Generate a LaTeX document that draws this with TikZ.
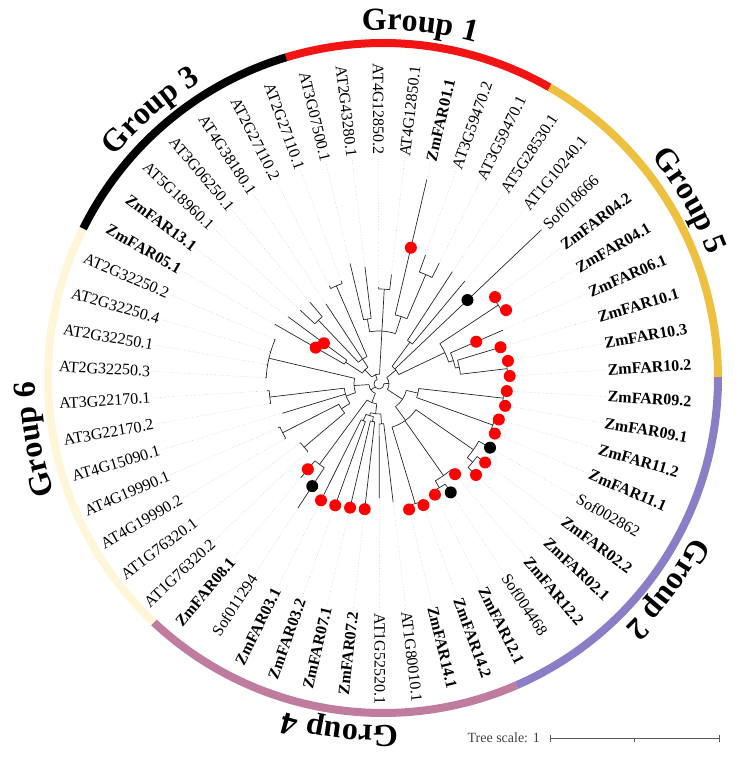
\documentclass[tikz,border=0pt]{standalone}
\usepackage{fontspec}
\setmainfont{Liberation Serif}
\usepackage{tikz}
\usetikzlibrary{decorations.text}
\definecolor{grpred}{RGB}{240,20,20}
\definecolor{grpgold}{RGB}{238,192,64}
\definecolor{grppurple}{RGB}{140,126,198}
\definecolor{grpmauve}{RGB}{192,124,158}
\definecolor{grpcream}{RGB}{255,246,218}
\newcommand{\leaffont}{\fontsize{16}{18}\selectfont}
\newcommand{\grpfont}{\bfseries\fontsize{32}{34}\selectfont}
\tikzstyle{treeline} = [draw, line width=0.7pt, black!85]
\tikzstyle{guide} = [draw, gray!40, dotted, line width=0.6pt]
\tikzstyle{leaf} = [inner sep=1pt]
\tikzstyle{dotred} = [circle, fill=red, inner sep=0pt, minimum size=12pt]
\tikzstyle{dotblack} = [circle, fill=black, inner sep=0pt, minimum size=12pt]
\tikzstyle{ring} = [line width=8pt]
\tikzstyle{scalebar} = [draw, black!65, line width=0.8pt]
% tree pieces: leaf position k, radii in pt
\newcommand{\tbranch}[3]{\draw[treeline] ({103.5-6.6667*(#1)}:#2pt) -- ({103.5-6.6667*(#1)}:#3pt);}
\newcommand{\tarc}[3]{\draw[treeline] ({103.5-6.6667*(#2)}:#1pt) arc[start angle={103.5-6.6667*(#2)}, end angle={103.5-6.6667*(#3)}, radius=#1pt];}
\newcommand{\ringseg}[3]{\draw[ring, #1] ({106.833-6.6667*(#2)}:335pt) arc[start angle={106.833-6.6667*(#2)}, end angle={106.833-6.6667*(#3)}, radius=335pt];}
\newcommand{\grouptitle}[2]{\path[decorate, decoration={text along path, text align=center, text={|\grpfont|#1}}] ({#2+36}:348pt) arc[start angle={#2+36}, end angle={#2-36}, radius=348pt];}

\begin{document}
\begin{tikzpicture}[x=1pt, y=1pt]
\useasboundingbox (-383,-385) rectangle (355,378);
\begin{scope}[shift={(-4,-6)}]
% Place leaves
\foreach \k/\nm/\f/\rt in {0/AT3G07500.1/\mdseries/124, 1/AT2G43280.1/\mdseries/118,
  2/AT4G12850.2/\mdseries/97, 3/AT4G12850.1/\mdseries/110, 4/ZmFAR01.1/\bfseries/210,
  5/AT3G59470.2/\mdseries/137, 6/AT3G59470.1/\mdseries/135, 7/AT5G28530.1/\mdseries/134,
  8/AT1G10240.1/\mdseries/134, 9/Sof018666/\mdseries/224, 10/ZmFAR04.2/\bfseries/145,
  11/ZmFAR04.1/\bfseries/147, 12/ZmFAR06.1/\bfseries/135, 13/ZmFAR10.1/\bfseries/127,
  14/ZmFAR10.3/\bfseries/131, 15/ZmFAR10.2/\bfseries/131, 16/ZmFAR09.2/\bfseries/128,
  17/ZmFAR09.1/\bfseries/128, 18/ZmFAR11.2/\bfseries/125, 19/ZmFAR11.1/\bfseries/126,
  20/Sof002862/\mdseries/128, 21/ZmFAR02.2/\bfseries/132, 22/ZmFAR02.1/\bfseries/133,
  23/ZmFAR12.2/\bfseries/118, 24/Sof004468/\mdseries/130, 25/ZmFAR12.1/\bfseries/124,
  26/ZmFAR14.2/\bfseries/129, 27/ZmFAR14.1/\bfseries/129, 28/AT1G80010.1/\mdseries/119,
  29/AT1G52520.1/\mdseries/114, 30/ZmFAR07.2/\bfseries/126, 31/ZmFAR07.1/\bfseries/127,
  32/ZmFAR03.2/\bfseries/129, 33/ZmFAR03.1/\bfseries/130, 34/Sof011294/\mdseries/148,
  35/ZmFAR08.1/\bfseries/122, 36/AT1G76320.2/\mdseries/99, 37/AT1G76320.1/\mdseries/99,
  38/AT4G19990.2/\mdseries/109, 39/AT4G19990.1/\mdseries/110, 40/AT4G15090.1/\mdseries/101,
  41/AT3G22170.2/\mdseries/111, 42/AT3G22170.1/\mdseries/112, 43/AT2G32250.3/\mdseries/114,
  44/AT2G32250.1/\mdseries/114, 45/AT2G32250.4/\mdseries/114, 46/AT2G32250.2/\mdseries/114,
  47/ZmFAR05.1/\bfseries/120, 48/ZmFAR13.1/\bfseries/113, 49/AT5G18960.1/\mdseries/108,
  50/AT3G06250.1/\mdseries/107, 51/AT4G38180.1/\mdseries/96, 52/AT2G27110.2/\mdseries/110,
  53/AT2G27110.1/\mdseries/110} {
  \pgfmathsetmacro\ang{103.5-6.6667*\k}
  \pgfmathtruncatemacro\flip{(\ang>90 || \ang<-89.9) ? 1 : 0}
  \coordinate (t\k) at (\ang:\rt);
  \ifnum\flip=1
    \node[leaf, font=\leaffont\f, anchor=east, rotate=\ang+180] (l\k) at (\ang:228) {\nm};
  \else
    \node[leaf, font=\leaffont\f, anchor=west, rotate=\ang] (l\k) at (\ang:228) {\nm};
  \fi
  \draw[guide] (t\k) -- (l\k);
}
% Draw tree: Group 1
\tarc{66}{0}{1} \tbranch{0}{66}{124} \tbranch{1}{66}{118}
\tarc{95}{2}{3} \tbranch{2}{95}{97} \tbranch{3}{95}{110}
\tarc{119}{5}{6} \tbranch{5}{119}{137} \tbranch{6}{119}{135}
\tarc{71}{4}{5.5} \tbranch{4}{71}{210} \tbranch{5.5}{71}{119}
\tarc{53}{0.5}{4.75} \tbranch{0.5}{53}{66} \tbranch{2.5}{53}{95} \tbranch{4.75}{53}{71}
\tbranch{2.5}{10}{53}
% Group 5
\tarc{52}{7}{8} \tbranch{7}{52}{134} \tbranch{8}{52}{134}
\tarc{143}{10}{11} \tbranch{10}{143}{145} \tbranch{11}{143}{147}
\tarc{129}{14}{15} \tbranch{14}{129}{131} \tbranch{15}{129}{131}
\tarc{82}{13}{14.5} \tbranch{13}{82}{127} \tbranch{14.5}{82}{129}
\tarc{78}{12}{13.75} \tbranch{12}{78}{135} \tbranch{13.75}{78}{82}
\tarc{73}{10.5}{12.9} \tbranch{10.5}{73}{143} \tbranch{12.9}{73}{78}
\tarc{22}{7.5}{11.7} \tbranch{7.5}{22}{52} \tbranch{9}{22}{224} \tbranch{11.7}{22}{73}
\tbranch{9.6}{10}{22}
% Group 2
\tarc{125}{16}{17} \tbranch{16}{125}{128} \tbranch{17}{125}{128}
\tarc{121}{18}{19} \tbranch{18}{121}{125} \tbranch{19}{121}{126}
\tarc{40}{16.5}{18.5} \tbranch{16.5}{40}{125} \tbranch{18.5}{40}{121}
\tarc{122}{21}{22} \tbranch{21}{122}{132} \tbranch{22}{122}{133}
\tarc{115}{20}{21.5} \tbranch{20}{115}{128} \tbranch{21.5}{115}{122}
\tarc{120}{24}{25} \tbranch{24}{120}{130} \tbranch{25}{120}{124}
\tarc{112}{23}{24.5} \tbranch{23}{112}{118} \tbranch{24.5}{112}{120}
\tarc{125}{26}{27} \tbranch{26}{125}{129} \tbranch{27}{125}{129}
\tarc{45}{20.75}{26.5} \tbranch{20.75}{45}{115} \tbranch{23.75}{45}{112} \tbranch{26.5}{45}{125}
\tarc{28}{17.5}{23.6} \tbranch{17.5}{28}{40} \tbranch{23.6}{28}{45}
\tbranch{20.5}{10}{28}
% Group 4
\tarc{40}{28}{29} \tbranch{28}{40}{119} \tbranch{29}{40}{114}
\tarc{38}{30}{31} \tbranch{30}{38}{126} \tbranch{31}{38}{127}
\tarc{40}{32}{33} \tbranch{32}{40}{129} \tbranch{33}{40}{130}
\tarc{33}{30.5}{32.5} \tbranch{30.5}{33}{38} \tbranch{32.5}{33}{40}
\tarc{30}{28.5}{31.5} \tbranch{28.5}{30}{40} \tbranch{31.5}{30}{33}
\tarc{100}{34}{35} \tbranch{34}{100}{148} \tbranch{35}{100}{122}
\tarc{20}{30}{34.5} \tbranch{30}{20}{30} \tbranch{34.5}{20}{100}
\tbranch{32.2}{10}{20}
% Group 6
\tarc{98}{36}{37} \tbranch{36}{98}{99} \tbranch{37}{98}{99}
\tarc{108}{38}{39} \tbranch{38}{108}{109} \tbranch{39}{108}{110}
\tarc{45}{36.5}{38.5} \tbranch{36.5}{45}{98} \tbranch{38.5}{45}{108}
\tarc{110}{41}{42} \tbranch{41}{110}{111} \tbranch{42}{110}{112}
\tarc{113}{43}{46} \tbranch{43}{113}{114} \tbranch{44}{113}{114} \tbranch{45}{113}{114} \tbranch{46}{113}{114}
\tarc{35}{37.5}{41.5} \tbranch{37.5}{35}{45} \tbranch{40}{35}{101} \tbranch{41.5}{35}{110}
\tarc{25}{39.5}{44.5} \tbranch{39.5}{25}{35} \tbranch{44.5}{25}{113}
\tbranch{42}{10}{25}
% Group 3
\tarc{40}{47}{48} \tbranch{47}{40}{120} \tbranch{48}{40}{113}
\tarc{88}{49}{50} \tbranch{49}{88}{108} \tbranch{50}{88}{107}
\tarc{107}{52}{53} \tbranch{52}{107}{110} \tbranch{53}{107}{110}
\tarc{30}{49.5}{52.5} \tbranch{49.5}{30}{88} \tbranch{51}{30}{96} \tbranch{52.5}{30}{107}
\tarc{20}{47.5}{51} \tbranch{47.5}{20}{40} \tbranch{51}{20}{30}
\tbranch{49.25}{10}{20}
% Root
\tarc{10}{49.25}{56.5} \tbranch{52.9}{5}{10}
\tarc{10}{9.6}{20.5} \tbranch{15}{5}{10}
\tarc{10}{32.2}{42} \tbranch{37.1}{5}{10}
\tarc{5}{15}{52.9}
% Place dots
\foreach \k/\rt in {4/140, 10/145, 11/147, 12/106, 13/127, 14/131, 15/131, 16/128, 17/128,
  18/125, 19/126, 21/132, 22/133, 23/118, 25/124, 26/129, 27/129, 30/126, 31/127, 32/129,
  33/130, 35/111, 47/73, 48/68.5}
  \node[dotred] (dr\k) at ({103.5-6.6667*\k}:\rt) {};
\foreach \k/\rt in {9/122, 20/128, 24/130, 34/122}
  \node[dotblack] (db\k) at ({103.5-6.6667*\k}:\rt) {};
\end{scope}
% Draw ring
\ringseg{grpred}{0}{7}
\ringseg{grpgold}{7}{16}
\ringseg{grppurple}{16}{26}
\ringseg{grpmauve}{26}{36}
\ringseg{grpcream}{36}{47}
\ringseg{black}{47}{54}
% Group titles
\grouptitle{Group 1}{84}
\grouptitle{Group 5}{30}
\grouptitle{Group 2}{-36.5}
\grouptitle{Group 4}{-97}
\grouptitle{Group 6}{-170}
\grouptitle{Group 3}{131}
% Scale bar
\node[inner sep=1pt, anchor=east, text=black!75, font=\fontsize{14}{16}\selectfont] (scale) at (158,-360) {Tree scale: 1};
\coordinate (sbL) at (167,-360);
\coordinate (sbM) at (251.5,-360);
\coordinate (sbR) at (336,-360);
\draw[scalebar] (sbL) -- (sbR);
\draw[scalebar] ([yshift=3.5pt]sbL) -- ([yshift=-3.5pt]sbL);
\draw[scalebar] ([yshift=3.5pt]sbR) -- ([yshift=-3.5pt]sbR);
\draw[scalebar] (sbM) -- ([yshift=-4pt]sbM);
\end{tikzpicture}
\end{document}
